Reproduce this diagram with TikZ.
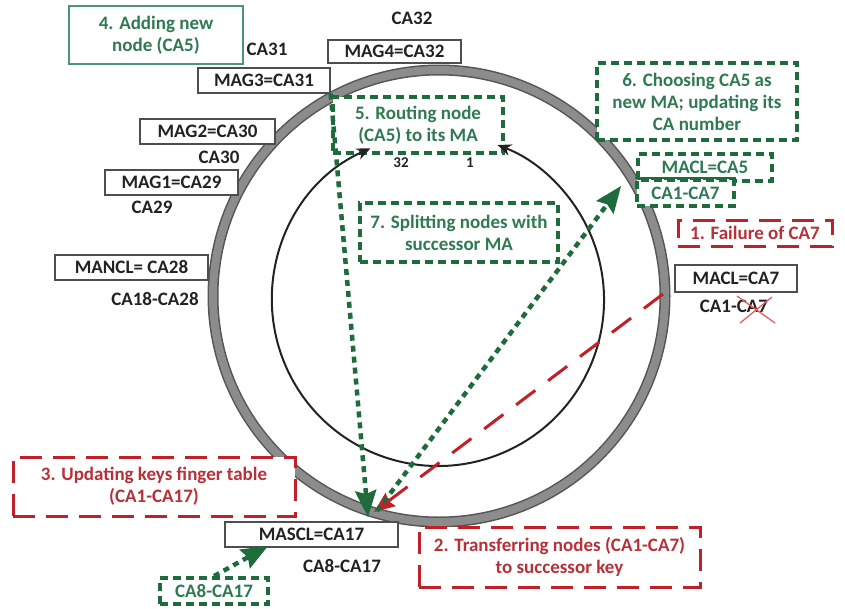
\documentclass[tikz,border=0pt]{standalone}
\usepackage{fontspec}
\setmainfont{Carlito}
\usetikzlibrary{arrows.meta}
\definecolor{ringfill}{HTML}{8C8C8C}
\definecolor{ringedge}{HTML}{555555}
\definecolor{gline}{HTML}{1E6B3C}
\definecolor{gtext}{HTML}{2F7A52}
\definecolor{gsolid}{HTML}{4E9478}
\definecolor{rline}{HTML}{C02028}
\definecolor{rtext}{HTML}{B83038}
\definecolor{ink}{HTML}{222222}
\definecolor{xmark}{HTML}{E06060}
\begin{document}
\begin{tikzpicture}[x=1pt,y=-1pt,
  every node/.style={font=\fontsize{19}{22}\selectfont\bfseries, inner sep=0pt, align=center},
  keybox/.style={draw=ink!80, line width=1.3pt, fill=white, text=ink},
  lbl/.style={text=ink},
  gdash/.style={draw=gline, line width=3.8pt, dash pattern=on 8pt off 5pt, fill=white, text=gtext},
  gplain/.style={draw=gsolid, line width=1.5pt, fill=white, text=gtext},
  rdash/.style={draw=rline, line width=3pt, dash pattern=on 22pt off 11pt, fill=white, text=rtext},
  gdot/.style={gline, line width=4.5pt, dash pattern=on 6pt off 5pt,
    -{Stealth[length=27pt,width=22pt,inset=4pt,line width=0pt]}},
  rarrow/.style={rline, line width=3pt, dash pattern=on 24pt off 16pt,
    -{Stealth[length=21pt,width=17pt,inset=3pt,line width=0pt]}},
  ctip/.tip={Stealth[length=14pt,width=12pt,line width=0pt]},
]
\useasboundingbox (0,0) rectangle (845,608);

% identifier ring
\draw[ringedge, line width=11pt] (439,296) circle[radius=226];
\draw[ringfill, line width=8pt] (439,296) circle[radius=226];

% plain labels
\node[lbl] (l32) at (412,18) {CA32};
\node[lbl] (l31) at (267,49) {CA31};
\node[lbl] (l30) at (219,157) {CA30};
\node[lbl] (l29) at (152,207) {CA29};
\node[lbl] (l28) at (155,299) {CA18-CA28};
\node[lbl] (l7) at (734,306) {CA1-CA7};
\node[lbl] (l17) at (342,566) {CA8-CA17};
\node[lbl, font=\fontsize{15}{17}\selectfont\bfseries] (n32) at (401,163) {32};
\node[lbl, font=\fontsize{15}{17}\selectfont\bfseries] (n1) at (470,163) {1};

% key boxes
\node[keybox, minimum width=133pt, minimum height=23pt] (mag4) at (394.5,51.5) {MAG4=CA32};
\node[keybox, minimum width=132pt, minimum height=25pt] (mag3) at (264,80.5) {MAG3=CA31};
\node[keybox, minimum width=135pt, minimum height=25pt] (mag2) at (207.5,131.5) {MAG2=CA30};
\node[keybox, minimum width=133pt, minimum height=25pt] (mag1) at (171.5,182.5) {MAG1=CA29};
\node[keybox, minimum width=153pt, minimum height=25pt] (mancl) at (131.5,267.5) {MANCL= CA28};
\node[keybox, minimum width=122pt, minimum height=27pt] (macl7) at (736,278.5) {MACL=CA7};
\node[keybox, minimum width=173pt, minimum height=25pt] (mascl) at (311.5,534.5) {MASCL=CA17};

% step boxes
\node[gplain, minimum width=174pt, minimum height=58pt] (add) at (156,35) {4. Adding new\\node (CA5)};
\node[gdash, minimum width=170pt, minimum height=56pt] (route) at (418,125) {5. Routing node\\(CA5) to its MA};
\node[gdash, minimum width=200pt, minimum height=77pt] (choose) at (697,101.5) {6. Choosing CA5 as\\new MA; updating its\\CA number};
\node[gdash, minimum width=134pt, minimum height=27pt] (macl5) at (705,167.5) {MACL=CA5};
\node[gdash, minimum width=97pt, minimum height=26pt] (ca17g) at (685.5,193) {CA1-CA7};
\draw[gline, line width=2pt] (ca17g.north west) -- (ca17g.north east);
\node[gdash, minimum width=198pt, minimum height=59pt] (split) at (459,232.5) {7. Splitting nodes with\\successor MA};
\node[gdash, minimum width=108pt, minimum height=26pt] (ca817g) at (214,591) {CA8-CA17};
\node[rdash, minimum width=154pt, minimum height=26pt] (fail) at (755,233) {1. Failure of CA7};
\node[rdash, minimum width=282pt, minimum height=59pt] (upd) at (154,486.5) {3. Updating keys finger table\\(CA1-CA17)};
\node[rdash, minimum width=281pt, minimum height=60pt] (trans) at (559.5,557) {2. Transferring nodes (CA1-CA7)\\to successor key};

% inner routing circle, open at the top, both ends pointing into the routing box
\draw[ink, line width=2pt, ctip-ctip]
  (438,300) ++(246:166) arc[start angle=246, end angle=-69, radius=166];

% crossed-out range of the failed node
\draw[xmark, line width=1.3pt] (737,296) -- (775,323) (740,323) -- (772,297);

% connector end points
\coordinate (g1b) at (368,517);
\coordinate (g2a) at (377,511);
\coordinate (g2b) at (621,186);
\coordinate (g3b) at (268,546);
\coordinate (r1a) at (663,294);
\coordinate (r1b) at (374,512);

% connectors
\draw[rarrow] (r1a) -- (r1b);
\draw[gdot] (mag3.south east) -- (g1b);
\draw[gdot] (g2a) -- (g2b);
\draw[gdot] (ca817g.north) -- (g3b);
\end{tikzpicture}
\end{document}
